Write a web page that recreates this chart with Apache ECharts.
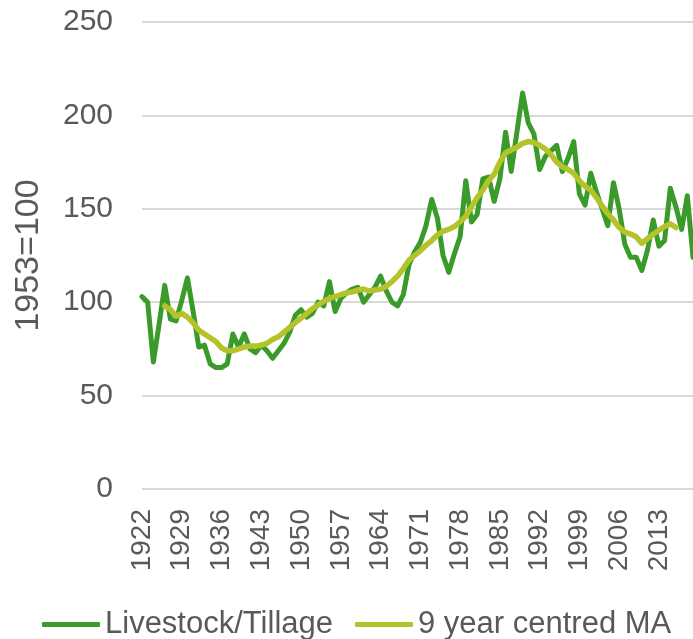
<!DOCTYPE html>
<html>
<head>
<meta charset="utf-8">
<script src="https://cdn.jsdelivr.net/npm/echarts@6/dist/echarts.min.js"></script>
<style>
html,body{margin:0;padding:0;background:#fff;}
#chart{width:693px;height:639px;}
</style>
</head>
<body>
<div id="chart"></div>
<script>
var years = [];
for (var y = 1922; y <= 2019; y++) years.push(String(y));

var livestockTillage = [
  103, 100, 68, 88, 109, 91, 90, 101,            // 1922-1929
  113, 95, 76, 77, 67, 65, 65, 67, 83, 76,       // 1930s
  83, 75, 73, 77, 74, 70, 74, 78, 84, 93,        // 1940s
  96, 92, 94, 100, 98, 111, 95, 102, 105, 107,   // 1950s
  108, 100, 104, 108, 114, 106, 100, 98, 104, 120, // 1960s
  127, 132, 141, 155, 145, 125, 116, 126, 135, 165, // 1970s
  143, 147, 166, 167, 154, 166, 191, 170, 191, 212, // 1980s
  196, 190, 171, 178, 181, 184, 170, 177, 186, 158, // 1990s
  152, 169, 159, 150, 141, 164, 150, 131, 124, 124, // 2000s
  117, 128, 144, 130, 133, 161, 151, 139, 157, 124  // 2010s
];

var movingAverage = [
  null, null, null, null, 98, 96, 92.5, 94,                  // 1922-1929
  92, 89, 85, 83, 81, 79, 75.5, 74, 74, 75,                  // 1930s
  76, 76.5, 76.5, 77, 78, 80, 81.5, 84, 86.5, 89,            // 1940s
  91.5, 94, 96.5, 98.5, 100.5, 102, 103, 104, 105, 105.5,    // 1950s
  106.5, 107, 106, 106.5, 107, 108.5, 111, 114, 118, 122.5,  // 1960s
  125, 127.5, 130.5, 133, 136, 138, 139, 140.5, 143, 146,    // 1970s
  151, 156, 160, 165, 168.5, 175, 180, 181.5, 183, 185,      // 1980s
  186, 185.5, 184, 182, 179, 175, 172.5, 171, 169, 165,      // 1990s
  162, 160, 156, 151.5, 147.5, 144, 140, 137.5, 136.5, 135,  // 2000s
  131.5, 134, 136.5, 138.5, 140.5, 142, 140, null, null, null // 2010s
];

var seriesNames = ['Livestock/Tillage', '9 year centred MA'];
var yAxisTitle = '1953=100';

var textColor = '#595959';
var font = '"Liberation Sans", Arial, sans-serif';

var chart = echarts.init(document.getElementById('chart'), null, {renderer: 'canvas'});
chart.setOption({
  animation: false,
  backgroundColor: '#ffffff',
  grid: {left: 142, right: 0, top: 22, bottom: 150, containLabel: false},
  legend: {
    data: seriesNames,
    left: 37,
    top: 604,
    itemWidth: 58,
    itemHeight: 5,
    itemGap: 22,
    icon: 'roundRect',
    textStyle: {fontSize: 31, color: textColor, fontFamily: font}
  },
  xAxis: {
    type: 'category',
    data: years,
    boundaryGap: false,
    axisLine: {show: false},
    axisTick: {show: false},
    axisLabel: {
      interval: 6,
      rotate: 90,
      fontSize: 28,
      color: textColor,
      fontFamily: font,
      margin: 20
    },
    splitLine: {show: false}
  },
  yAxis: {
    type: 'value',
    min: 0,
    max: 250,
    interval: 50,
    name: yAxisTitle,
    nameLocation: 'middle',
    nameRotate: 90,
    nameGap: 96,
    nameTextStyle: {fontSize: 34, color: textColor, fontFamily: font},
    axisLine: {show: false},
    axisTick: {show: false},
    axisLabel: {fontSize: 30, color: textColor, fontFamily: font, margin: 29},
    splitLine: {lineStyle: {color: '#d9d9d9', width: 2}}
  },
  series: [
    {
      name: seriesNames[0],
      type: 'line',
      data: livestockTillage,
      symbol: 'none',
      lineStyle: {color: '#3a9b2b', width: 5, cap: 'round', join: 'round'},
      itemStyle: {color: '#3a9b2b'},
      z: 2
    },
    {
      name: seriesNames[1],
      type: 'line',
      data: movingAverage,
      symbol: 'none',
      connectNulls: false,
      lineStyle: {color: '#b5c32b', width: 5.5, cap: 'round', join: 'round'},
      itemStyle: {color: '#b5c32b'},
      z: 3
    }
  ]
});
</script>
</body>
</html>
